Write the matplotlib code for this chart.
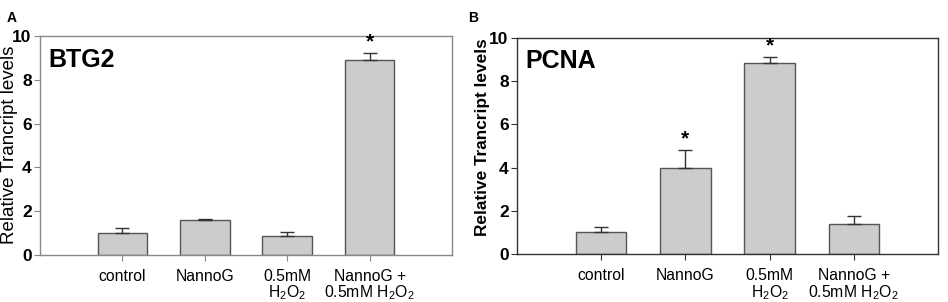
import matplotlib
matplotlib.use("Agg")
from matplotlib import pyplot as plt
import numpy as np

plt.rcParams["font.family"] = ["Liberation Sans", "DejaVu Sans"]
plt.rcParams["mathtext.default"] = "regular"

groups = ["control", "NannoG", "0.5mM\nH$_2$O$_2$", "NannoG +\n0.5mM H$_2$O$_2$"]

btg2_mean = [1.0, 1.6, 0.85, 8.9]
btg2_err = [0.22, 0.05, 0.2, 0.3]
btg2_sig = [False, False, False, True]

pcna_mean = [1.0, 4.0, 8.85, 1.4]
pcna_err = [0.25, 0.8, 0.25, 0.35]
pcna_sig = [False, True, True, False]

yticks = [0, 2, 4, 6, 8, 10]


def draw_panel(ax, gene, mean, err, sig, spine_color):
    x = np.arange(1, len(mean) + 1)
    ax.bar(x, mean, width=0.6, color="#cccccc", edgecolor="#555555", linewidth=1.0, zorder=2)
    ax.errorbar(x, mean, yerr=[np.zeros(len(err)), err], fmt="none",
                ecolor="#333333", elinewidth=1.0, capsize=5, capthick=1.0, zorder=3)
    for xi, m, e, s in zip(x, mean, err, sig):
        if s:
            ax.text(xi, m + e + 0.1, "*", ha="center", va="bottom", fontsize=15, fontweight="bold")
    ax.set_xlim(0, 5)
    ax.set_ylim(0, 10)
    ax.set_yticks(yticks)
    ax.set_yticklabels([str(t) for t in yticks], fontsize=12.5, fontweight="bold")
    ax.set_xticks(x)
    ax.set_xticklabels(groups, fontsize=11.3, va="top", linespacing=1.0)
    ax.tick_params(axis="x", direction="out", length=4, pad=6, color=spine_color)
    ax.tick_params(axis="y", direction="out", length=4, pad=2, color=spine_color)
    for sp in ax.spines.values():
        sp.set_color(spine_color)
        sp.set_linewidth(1.0)
    ax.text(0.02, 0.86, gene, transform=ax.transAxes, fontsize=18, fontweight="bold", va="baseline")


fig = plt.figure(figsize=(9.48, 3.02), dpi=100)
ax_a = fig.add_axes([0.0422, 0.156, 0.4346, 0.725])
ax_b = fig.add_axes([0.5454, 0.159, 0.444, 0.715])

draw_panel(ax_a, "BTG2", btg2_mean, btg2_err, btg2_sig, "#888888")
draw_panel(ax_b, "PCNA", pcna_mean, pcna_err, pcna_sig, "#333333")

ax_a.set_ylabel("Relative Trancript levels", fontsize=13.5)
ax_a.yaxis.set_label_coords(-0.053, 0.505)
ax_b.set_ylabel("Relative Trancript levels", fontsize=12.4, fontweight="bold")
ax_b.yaxis.set_label_coords(-0.064, 0.54)

fig.text(0.007, 0.965, "A", fontsize=10, fontweight="bold", va="top")
fig.text(0.494, 0.965, "B", fontsize=10, fontweight="bold", va="top")

fig.savefig("out.png", dpi=100)
